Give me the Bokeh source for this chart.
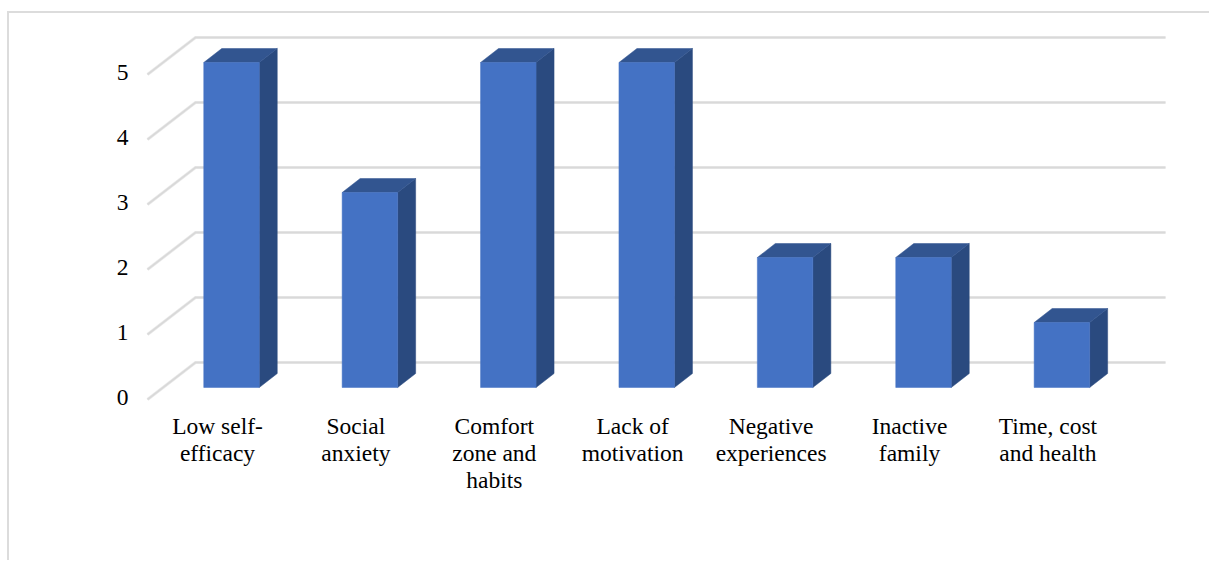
from bokeh.plotting import figure
from bokeh.models import Range1d, FixedTicker
from bokeh.embed import file_html
from bokeh.resources import INLINE

categories = ["Low self-\nefficacy", "Social\nanxiety", "Comfort\nzone and\nhabits", "Lack of\nmotivation",
              "Negative\nexperiences", "Inactive\nfamily", "Time, cost\nand health"]
values = [5, 3, 5, 5, 2, 2, 1]
y_ticks = [0, 1, 2, 3, 4, 5]

W, H = 1202, 549
BL, BT = 2, 2      # css border widths
ML, MT = 7, 11     # css margins
ORIGIN_TOP = MT + BT
ORIGIN_LEFT = ML + BL
F_L, F_R, F_T, F_B = 140, 1195, 20, 405   # frame in page px
PX_X, X0 = 138.4, 217.0
PX_Y, Y0 = 65.0, 396.5

p = figure(width=W, height=H, output_backend="svg", toolbar_location=None,
           x_range=Range1d((F_L - X0) / PX_X, (F_R - X0) / PX_X),
           y_range=Range1d((Y0 - F_B) / PX_Y, (Y0 - F_T) / PX_Y),
           min_border_left=F_L - ORIGIN_LEFT, min_border_right=W - (F_R - ORIGIN_LEFT),
           min_border_top=F_T - ORIGIN_TOP, min_border_bottom=H - (F_B - ORIGIN_TOP))
p.styles = {"margin-top": f"{MT}px", "margin-left": f"{ML}px",
            "border-top": f"{BT}px solid #dcdcdc", "border-left": f"{BL}px solid #dcdcdc"}
p.outline_line_color = None
p.grid.visible = False
p.background_fill_color = "white"

# depth of the 3D box, in data units
FLOOR_FX, FLOOR_BX, WALL_END = (147 - X0) / PX_X, (195 - X0) / PX_X, (1165 - X0) / PX_X
FRONT_DY = (Y0 - 399) / PX_Y
BACK_DY = (Y0 - 362) / PX_Y
SHIFT_X, SHIFT_Y = 14 / PX_X, (Y0 - 387) / PX_Y
BAR_W = 55.5 / PX_X
DX, DY = 18 / PX_X, 14 / PX_Y

# gridlines: soft halo + main line, side wall and back wall
for color, lw in (("#ececec", 3.2), ("#d9d9d9", 1.8)):
    p.multi_line(
        xs=[[FLOOR_FX, FLOOR_BX, WALL_END] for _ in y_ticks],
        ys=[[t + FRONT_DY, t + BACK_DY, t + BACK_DY] for t in y_ticks],
        line_color=color, line_width=lw)

xs = list(range(len(values)))
left = [x + SHIFT_X - BAR_W / 2 for x in xs]
right = [x + SHIFT_X + BAR_W / 2 for x in xs]
base = SHIFT_Y
top = [v + base for v in values]

p.patches(xs=[[r, r + DX, r + DX, r] for r in right],
          ys=[[base, base + DY, t + DY, t] for t in top],
          fill_color="#2a4a7f", line_color="#2a4a7f", line_width=0.5)
p.patches(xs=[[l, r, r + DX, l + DX] for l, r in zip(left, right)],
          ys=[[t, t, t + DY, t + DY] for t in top],
          fill_color="#325590", line_color="#325590", line_width=0.5)
p.quad(left=left, right=right, bottom=base, top=top,
       fill_color="#4472c4", line_color="#4472c4", line_width=0.5)

FONT = "Liberation Serif"
p.xaxis.ticker = FixedTicker(ticks=xs)
p.xaxis.major_label_overrides = {i: c for i, c in enumerate(categories)}
p.yaxis.ticker = FixedTicker(ticks=y_ticks)
for ax in (p.xaxis, p.yaxis):
    ax.axis_line_color = None
    ax.major_tick_line_color = None
    ax.minor_tick_line_color = None
    ax.major_label_text_font = FONT
    ax.major_label_text_font_size = "23.5px"
    ax.major_label_text_line_height = 1.05
    ax.major_label_text_color = "#000000"
p.xaxis.major_label_standoff = 1
p.yaxis.major_label_standoff = 6

open("out.html", "w").write(file_html(p, INLINE))
